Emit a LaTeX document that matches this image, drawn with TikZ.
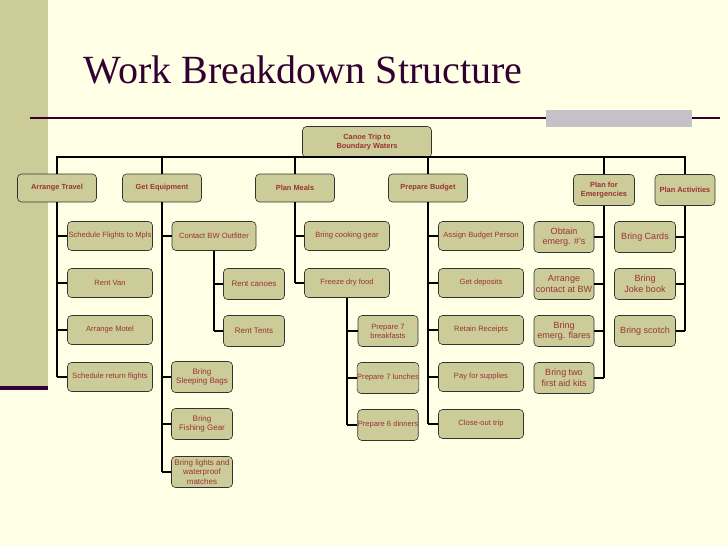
\documentclass[tikz,border=0pt]{standalone}
\usepackage{fontspec}
\setmainfont{Liberation Sans}
\newfontfamily\titlefont{Liberation Serif}
\begin{document}
\begin{tikzpicture}[x=1pt,y=-1pt,
  box/.style={draw=black!80,fill=boxc,rounded corners=4pt,minimum height=29pt,text=txtc,font=\fontsize{7.6}{9}\selectfont,align=center,inner sep=1pt,line width=0.6pt},
  top/.style={box,font=\bfseries\fontsize{7.4}{9}\selectfont,minimum height=28pt},
  big/.style={box,font=\fontsize{9}{10.5}\selectfont,minimum height=31pt},
  wire/.style={line width=1.4pt,black}]
\definecolor{bg}{HTML}{FFFFE6}
\definecolor{band}{HTML}{CCCC99}
\definecolor{boxc}{HTML}{CCCC99}
\definecolor{txtc}{HTML}{993333}
\definecolor{ttl}{HTML}{330033}
\definecolor{greyb}{HTML}{C4C2C8}
\fill[bg] (0,0) rectangle (728,546);
\useasboundingbox (0,0) rectangle (728,546);
\fill[band] (0,0) rectangle (48,388);
\fill[ttl] (0,386) rectangle (48,390);
\node[anchor=west,text=ttl,font=\titlefont\fontsize{40}{44}\selectfont] (title) at (80,70) {Work Breakdown Structure};
\draw[ttl,line width=1.2pt] (30,118) -- (720,118);
\fill[greyb] (546,110) rectangle (692,127);
% nodes
\node[top,minimum width=129pt,minimum height=31pt] (root) at (367,142) {Canoe Trip to\\Boundary Waters};
\node[top,minimum width=79pt] (at) at (57,188) {Arrange Travel};
\node[top,minimum width=79pt] (ge) at (162,188) {Get Equipment};
\node[top,minimum width=79pt] (pm) at (295,188) {Plan Meals};
\node[top,minimum width=79pt] (pb) at (428,188) {Prepare Budget};
\node[top,minimum width=61pt,minimum height=31pt] (pe) at (604,190) {Plan for\\Emergencies};
\node[top,minimum width=60pt,minimum height=31pt] (pa) at (685,190) {Plan Activities};
\node[box,minimum width=85pt] (sf) at (110,236) {Schedule Flights to Mpls};
\node[box,minimum width=85pt] (rv) at (110,283) {Rent Van};
\node[box,minimum width=85pt] (am) at (110,330) {Arrange Motel};
\node[box,minimum width=85pt] (sr) at (110,377) {Schedule return flights};
\node[box,minimum width=84pt] (cb) at (214,236) {Contact BW Outfitter};
\node[box,font=\fontsize{8}{9.5}\selectfont,minimum width=61pt,minimum height=31pt] (rc) at (254,284) {Rent canoes};
\node[box,font=\fontsize{8}{9.5}\selectfont,minimum width=61pt,minimum height=31pt] (rt) at (254,331) {Rent Tents};
\node[box,font=\fontsize{8}{9.5}\selectfont,minimum width=61pt,minimum height=31pt] (sb) at (202,377) {Bring\\Sleeping Bags};
\node[box,font=\fontsize{8}{9.5}\selectfont,minimum width=61pt,minimum height=31pt] (fg) at (202,424) {Bring\\Fishing Gear};
\node[box,font=\fontsize{8}{9.5}\selectfont,minimum width=61pt,minimum height=31pt,inner sep=0pt] (bl) at (202,472) {Bring lights and\\waterproof\\matches};
\node[box,minimum width=85pt] (cg) at (347,236) {Bring cooking gear};
\node[box,minimum width=85pt] (fd) at (347,283) {Freeze dry food};
\node[box,minimum width=60pt,minimum height=31pt] (p7b) at (388,331) {Prepare 7\\breakfasts};
\node[box,minimum width=60pt,minimum height=31pt,inner sep=0pt] (p7l) at (388,378) {Prepare 7 lunches};
\node[box,minimum width=60pt,minimum height=31pt,inner sep=0pt] (p6d) at (388,425) {Prepare 6 dinners};
\node[box,minimum width=85pt] (ab) at (481,236) {Assign Budget Person};
\node[box,minimum width=85pt] (gd) at (481,283) {Get deposits};
\node[box,minimum width=85pt] (rr) at (481,330) {Retain Receipts};
\node[box,minimum width=85pt] (ps) at (481,377) {Pay for supplies};
\node[box,minimum width=85pt] (co) at (481,424) {Close-out trip};
\node[big,minimum width=60pt] (oe) at (564,237) {Obtain\\emerg. \#'s};
\node[big,minimum width=60pt] (ac) at (564,284) {Arrange\\contact at BW};
\node[big,minimum width=60pt] (ef) at (564,331) {Bring\\emerg. flares};
\node[big,minimum width=60pt] (fa) at (564,378) {Bring two\\first aid kits};
\node[big,minimum width=61pt] (bc) at (645,237) {Bring Cards};
\node[big,minimum width=61pt] (jb) at (645,284) {Bring\\Joke book};
\node[big,minimum width=61pt] (bs) at (645,331) {Bring scotch};
% connectors
\coordinate (bus) at (367,157);
\draw[wire] (root.south) -- (bus);
\draw[wire] (at.north) |- (bus) -| (pa.north);
\foreach \n in {ge,pm,pb,pe} \draw[wire] (\n.north) -- (\n.north |- bus);
\coordinate (atv) at (50,377);
\draw[wire] (at.south) -- (at.south |- atv);
\foreach \n in {sf,rv,am,sr} \draw[wire] (\n.west) -- (\n.west -| at.south);
\draw[wire] (ge.south) -- (ge.south |- bl);
\foreach \n in {cb,sb,fg,bl} \draw[wire] (\n.west) -- (\n.west -| ge.south);
\draw[wire] (cb.south) -- (cb.south |- rt);
\foreach \n in {rc,rt} \draw[wire] (\n.west) -- (\n.west -| cb.south);
\draw[wire] (pm.south) -- (pm.south |- fd);
\foreach \n in {cg,fd} \draw[wire] (\n.west) -- (\n.west -| pm.south);
\draw[wire] (fd.south) -- (fd.south |- p6d);
\foreach \n in {p7b,p7l,p6d} \draw[wire] (\n.west) -- (\n.west -| fd.south);
\draw[wire] (pb.south) -- (pb.south |- co);
\foreach \n in {ab,gd,rr,ps,co} \draw[wire] (\n.west) -- (\n.west -| pb.south);
\draw[wire] (pe.south) -- (pe.south |- fa);
\foreach \n in {oe,ac,ef,fa} \draw[wire] (\n.east) -- (\n.east -| pe.south);
\draw[wire] (pa.south) -- (pa.south |- bs);
\foreach \n in {bc,jb,bs} \draw[wire] (\n.east) -- (\n.east -| pa.south);
\end{tikzpicture}
\end{document}
